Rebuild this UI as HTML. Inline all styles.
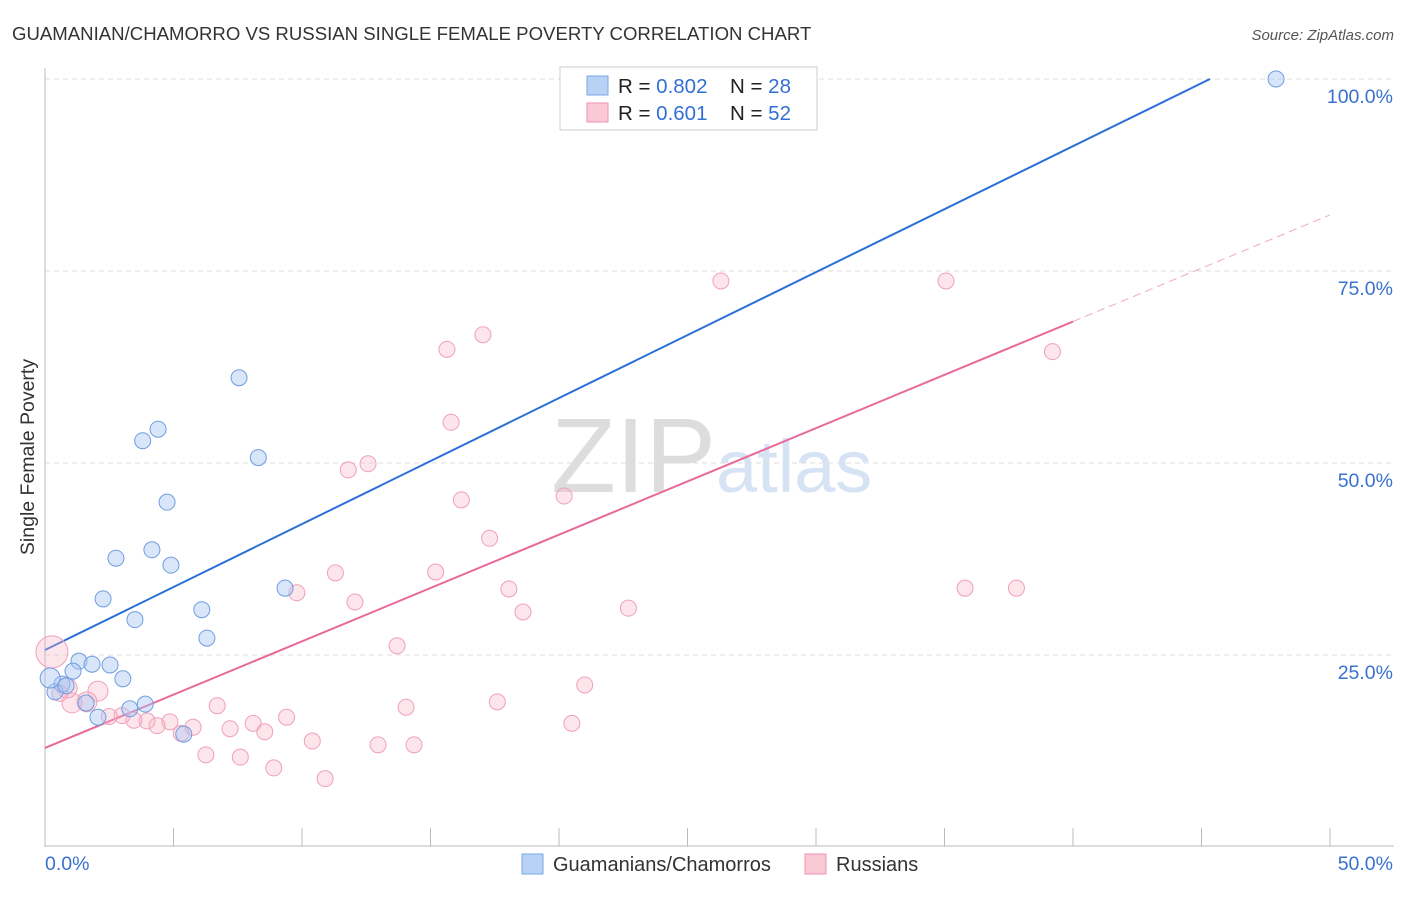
<!DOCTYPE html>
<html><head><meta charset="utf-8">
<style>
body{margin:0;background:#fff;font-family:"Liberation Sans",sans-serif;}
svg text{font-family:"Liberation Sans",sans-serif;}
</style></head>
<body>
<svg id="chart" width="1406" height="892" xmlns="http://www.w3.org/2000/svg">
<text x="12" y="40" font-size="18.6" fill="#333">GUAMANIAN/CHAMORRO VS RUSSIAN SINGLE FEMALE POVERTY CORRELATION CHART</text>
<text x="1394" y="40" font-size="15" fill="#555" text-anchor="end" font-style="italic">Source: ZipAtlas.com</text>
<text x="34" y="457" font-size="19.5" fill="#333" text-anchor="middle" transform="rotate(-90 34 457)">Single Female Poverty</text>
<text x="716" y="492" font-size="106" fill="#ddd" text-anchor="end" font-family="Liberation Serif">ZIP</text>
<text x="716" y="492" font-size="74" fill="#d6e3f5">atlas</text>
<g id="grid"></g>
<g id="axes"></g>
<g id="lines"></g>
<g id="pts"></g>
<g>
<rect x="560" y="67" width="257" height="63" fill="#fff" stroke="#ccc"/>
<rect x="587" y="76" width="21" height="19" fill="#b8d2f5" stroke="#7aa6e6"/>
<rect x="587" y="103" width="21" height="19" fill="#fbc8d6" stroke="#ef93b0"/>
<text x="618" y="93" font-size="20.5" fill="#222">R = <tspan fill="#3370d4">0.802</tspan></text>
<text x="730" y="93" font-size="20.5" fill="#222">N = <tspan fill="#3370d4">28</tspan></text>
<text x="618" y="120" font-size="20.5" fill="#222">R = <tspan fill="#3370d4"> 0.601</tspan></text>
<text x="730" y="120" font-size="20.5" fill="#222">N = <tspan fill="#3370d4">52</tspan></text>
</g>
<g>
<rect x="522" y="854" width="21" height="20" fill="#b8d2f5" stroke="#7aa6e6"/>
<text x="553" y="871" font-size="20" fill="#333">Guamanians/Chamorros</text>
<rect x="805" y="854" width="21" height="20" fill="#fbc8d6" stroke="#ef93b0"/>
<text x="836" y="871" font-size="20" fill="#333">Russians</text>
</g>
</svg>
<script>
const blueX=[47.9,7.55,4.4,3.8,8.3,4.75,4.16,2.76,4.9,2.26,9.34,6.1,3.5,6.3,1.32,1.83,2.53,1.09,3.03,0.66,0.39,0.82,1.6,3.9,3.3,2.06,5.4,0.2];
const blueY=[100,61.1,54.4,52.9,50.7,44.9,38.7,37.6,36.7,32.3,33.7,30.9,29.6,27.2,24.2,23.8,23.7,22.9,21.9,21.2,20.2,21.0,18.75,18.6,18.0,16.9,14.7,22];
const pinkX=[26.3,35.06,17.04,15.64,39.2,15.8,12.57,11.8,16.2,20.2,17.3,11.3,15.2,18.05,35.8,37.8,9.8,12.06,18.6,22.7,13.7,21.0,14.05,17.6,6.7,9.4,20.5,8.1,7.2,8.55,5.76,4.86,4.36,3.97,3.46,3.0,5.3,10.4,12.96,14.36,6.26,7.6,8.9,10.9,2.06,1.63,1.05,0.86,0.27,22.5,0.58,2.5];
const pinkY=[73.7,73.7,66.7,64.8,64.5,55.3,49.9,49.1,45.2,45.7,40.2,35.7,35.8,33.6,33.7,33.7,33.1,31.9,30.6,31.1,26.2,21.1,18.2,18.9,18.4,16.9,16.1,16.1,15.4,15.0,15.6,16.3,15.8,16.4,16.5,17.1,14.8,13.8,13.3,13.3,12.0,11.7,10.3,8.9,20.3,18.9,18.75,20.7,25.4,99.9,20,17];
const yTicks=[25,50,75,100];
const xTickVals=[0,5,10,15,20,25,30,35,40,45,50];
const blueFit=[25.65,100,45.33];
const pinkFit=[12.9,82.3];
const X=v=>45+v*25.7, Y=v=>847-v*7.68;
const NS="http://www.w3.org/2000/svg";
function mk(t,a,p){const e=document.createElementNS(NS,t);for(const k in a)e.setAttribute(k,a[k]);document.getElementById(p).appendChild(e);return e;}
yTicks.forEach(t=>{
 const l=mk('line',{x1:45,x2:1394,y1:Y(t),y2:Y(t),stroke:'#ddd','stroke-dasharray':'5,4'},'grid');
 
 
 const tx=mk('text',{x:1393,y:Y(t)+24,'font-size':19.5,fill:'#3a70d0','text-anchor':'end'},'grid');
 tx.textContent=t.toFixed(1)+'%';
 
 
});
const ax=mk('line',{x1:45,x2:45,y1:68,y2:847,stroke:'#bbb'},'axes');


const bx=mk('line',{x1:45,x2:1394,y1:846,y2:846,stroke:'#bbb'},'axes');


xTickVals.forEach(t=>{
 const l=mk('line',{x1:X(t),x2:X(t),y1:828,y2:846,stroke:'#bbb'},'axes');
 
 
});
[[0,45,'start'],[50,1393,'end']].forEach(([v,x,a])=>{
 const tx=mk('text',{x:x,y:870,'font-size':19.5,fill:'#3a70d0','text-anchor':a},'axes');
 tx.textContent=v.toFixed(1)+'%';
 
 
});
const bl=mk('line',{x1:X(0),y1:Y(blueFit[0]),x2:X(blueFit[2]),y2:Y(blueFit[1]),stroke:'#2a6fd6','stroke-width':2},'lines');


const pm=v=>pinkFit[0]+(pinkFit[1]-pinkFit[0])*v/50;
const pl=mk('line',{x1:X(0),y1:Y(pm(0)),x2:X(40),y2:Y(pm(40)),stroke:'#e8699a','stroke-width':2},'lines');


const pd=mk('line',{x1:X(40),y1:Y(pm(40)),x2:X(50),y2:Y(pm(50)),stroke:'#f0a8c0','stroke-width':1,'stroke-dasharray':'8,5'},'lines');


pinkX.forEach((v,i)=>{
 const r=i===48?16:(i>=44&&i<=47?10:8);
 const c=mk('circle',{cx:X(v),cy:Y(pinkY[i]),r:r,fill:'rgba(249,180,200,0.35)',stroke:'#f0a0ba','stroke-width':1},'pts');
 
 
});
blueX.forEach((v,i)=>{
 const r=i===27?10:8;
 const c=mk('circle',{cx:X(v),cy:Y(blueY[i]),r:r,fill:'rgba(170,200,245,0.45)',stroke:'#6f9de0','stroke-width':1},'pts');
 
 
});
</script>
</body></html>
